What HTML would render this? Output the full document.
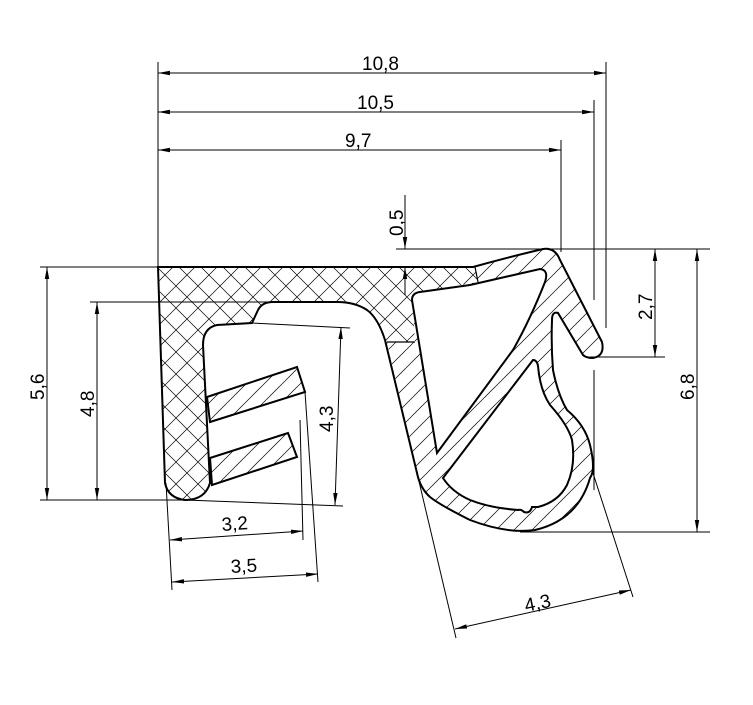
<!DOCTYPE html>
<html><head><meta charset="utf-8"><style>
html,body{margin:0;padding:0;background:#fff}
svg{display:block}
text{font-family:"Liberation Sans",sans-serif;font-size:19px;fill:#000}
</style></head><body>
<svg width="753" height="705" viewBox="0 0 753 705" xmlns="http://www.w3.org/2000/svg">
<defs>
<pattern id="cross" width="22" height="22" patternUnits="userSpaceOnUse">
<rect width="22" height="22" fill="#fff"/>
<path d="M0,0 L22,22 M22,0 L0,22" stroke="#000" stroke-width="0.7"/>
</pattern>
<pattern id="diag" width="18" height="18" patternUnits="userSpaceOnUse">
<rect width="18" height="18" fill="#fff"/>
<path d="M-2,20 L20,-2 M-2,2 L2,-2 M16,20 L20,16" stroke="#000" stroke-width="0.7"/>
</pattern>
<marker id="a" markerWidth="12" markerHeight="6" refX="12" refY="3" orient="auto" markerUnits="userSpaceOnUse">
<path d="M0,0.8 L12,3 L0,5.2 Z" fill="#000"/>
</marker>
<marker id="s" markerWidth="12" markerHeight="6" refX="0" refY="3" orient="auto" markerUnits="userSpaceOnUse">
<path d="M12,0.8 L0,3 L12,5.2 Z" fill="#000"/>
</marker>
</defs>

<path d="M158,267 L473,267 Q505,258 543,249 Q555,247 560,260 L602,342 Q605,356 593,358 Q586,358 583,355 L558,313 Q552,311 552,320 Q551,345 553,370 Q558,395 567,410 Q585,425 590,445 Q596,470 590,478 Q578,520 535,530 Q507,534 470,520 Q440,505 430,497 Q420,488 417,473 L385,340 Q378,318 367,310 Q355,302 337,302 L273,302 Q262,302 258,310 L252,323 L217,325 Q203,328 203,345 L210,483 Q205,500 185,500 Q168,498 165,483 Z" fill="url(#cross)" stroke="none"/>
<path d="M387,342 L415,342 L412,300 L420,292 L478,282 L475,267 Q505,258 543,249 Q555,247 560,260 L602,342 Q605,356 593,358 Q586,358 583,355 L558,313 Q552,311 552,320 Q551,345 553,370 Q558,395 567,410 Q585,425 590,445 Q596,470 590,478 Q578,520 535,530 Q507,534 470,520 Q440,505 430,497 Q420,488 417,473 Z" fill="url(#diag)" stroke="none"/>
<path d="M158,267 L473,267 Q505,258 543,249 Q555,247 560,260 L602,342 Q605,356 593,358 Q586,358 583,355 L558,313 Q552,311 552,320 Q551,345 553,370 Q558,395 567,410 Q585,425 590,445 Q596,470 590,478 Q578,520 535,530 Q507,534 470,520 Q440,505 430,497 Q420,488 417,473 L385,340 Q378,318 367,310 Q355,302 337,302 L273,302 Q262,302 258,310 L252,323 L217,325 Q203,328 203,345 L210,483 Q205,500 185,500 Q168,498 165,483 Z" fill="none" stroke="#000" stroke-width="2"/>
<path d="M387,342 L415,342 M475,267 L478,282" stroke="#000" stroke-width="1.2" fill="none"/>
<path d="M207,397 L297,367 L305,392 L210,422 Z" fill="url(#diag)" stroke="#000" stroke-width="2"/>
<path d="M210,458 L288,433 L297,457 L212,485 Z" fill="url(#diag)" stroke="#000" stroke-width="2"/>
<path d="M412,300 Q412,293 420,292 L470,285 L540,269 Q549,270 545,282 Q530,320 513,350 L437,453 Z" fill="#fff" stroke="#000" stroke-width="2"/>
<path d="M443,478 L533,360 Q537,360 538,366 Q540,390 550,405 Q568,425 572,440 Q576,465 567,485 Q558,502 538,507 L532,507 Q530,514 524,512 Q521,509 518,510 Q490,508 470,500 Q452,492 443,478 Z" fill="#fff" stroke="#000" stroke-width="2"/>

<g stroke="#000" stroke-width="1" fill="none">
<line x1="158" y1="62" x2="158" y2="267"/>
<line x1="606" y1="62" x2="606" y2="328"/>
<line x1="594" y1="100" x2="594" y2="300"/>
<line x1="561" y1="140" x2="561" y2="252"/>
<line x1="158" y1="73" x2="606" y2="73" marker-start="url(#s)" marker-end="url(#a)"/>
<line x1="158" y1="112" x2="594" y2="112" marker-start="url(#s)" marker-end="url(#a)"/>
<line x1="158" y1="150" x2="561" y2="150" marker-start="url(#s)" marker-end="url(#a)"/>
<line x1="396" y1="249" x2="710" y2="249"/>
<line x1="405" y1="195" x2="405" y2="249" marker-end="url(#a)"/>
<line x1="405" y1="295" x2="405" y2="267" marker-end="url(#a)"/>
<line x1="590" y1="357" x2="665" y2="357"/>
<line x1="594" y1="370" x2="594" y2="490"/>
<line x1="520" y1="532" x2="710" y2="532"/>
<line x1="655" y1="249" x2="655" y2="357" marker-start="url(#s)" marker-end="url(#a)"/>
<line x1="697" y1="249" x2="697" y2="532" marker-start="url(#s)" marker-end="url(#a)"/>
<line x1="40" y1="267" x2="158" y2="267"/>
<line x1="40" y1="500" x2="185" y2="500"/>
<line x1="90" y1="302" x2="273" y2="302"/>
<line x1="47" y1="267" x2="47" y2="500" marker-start="url(#s)" marker-end="url(#a)"/>
<line x1="97" y1="302" x2="97" y2="500" marker-start="url(#s)" marker-end="url(#a)"/>
<line x1="252" y1="323" x2="350" y2="328"/>
<line x1="185" y1="500" x2="343" y2="506"/>
<line x1="341" y1="327" x2="335" y2="505" marker-start="url(#s)" marker-end="url(#a)"/>
<line x1="166" y1="483" x2="172" y2="590"/>
<line x1="300" y1="420" x2="303" y2="540"/>
<line x1="305" y1="392" x2="318" y2="582"/>
<line x1="170" y1="540" x2="303" y2="531" marker-start="url(#s)" marker-end="url(#a)"/>
<line x1="172" y1="582" x2="318" y2="574" marker-start="url(#s)" marker-end="url(#a)"/>
<line x1="417" y1="473" x2="456" y2="638"/>
<line x1="592" y1="470" x2="633" y2="597"/>
<line x1="455" y1="629" x2="631" y2="590" marker-start="url(#s)" marker-end="url(#a)"/>
</g>

<text x="362" y="70">10,8</text>
<text x="357" y="109">10,5</text>
<text x="345" y="147">9,7</text>
<text transform="translate(403,236) rotate(-90)">0,5</text>
<text transform="translate(652,320) rotate(-90)">2,7</text>
<text transform="translate(694,400) rotate(-90)">6,8</text>
<text transform="translate(44,400) rotate(-90)">5,6</text>
<text transform="translate(94,417) rotate(-90)">4,8</text>
<text transform="translate(333,432) rotate(-90)">4,3</text>
<text transform="translate(222,531) rotate(-4)">3,2</text>
<text transform="translate(231,573) rotate(-3)">3,5</text>
<text transform="translate(526,612) rotate(-12)">4,3</text>
</svg>
</body></html>
